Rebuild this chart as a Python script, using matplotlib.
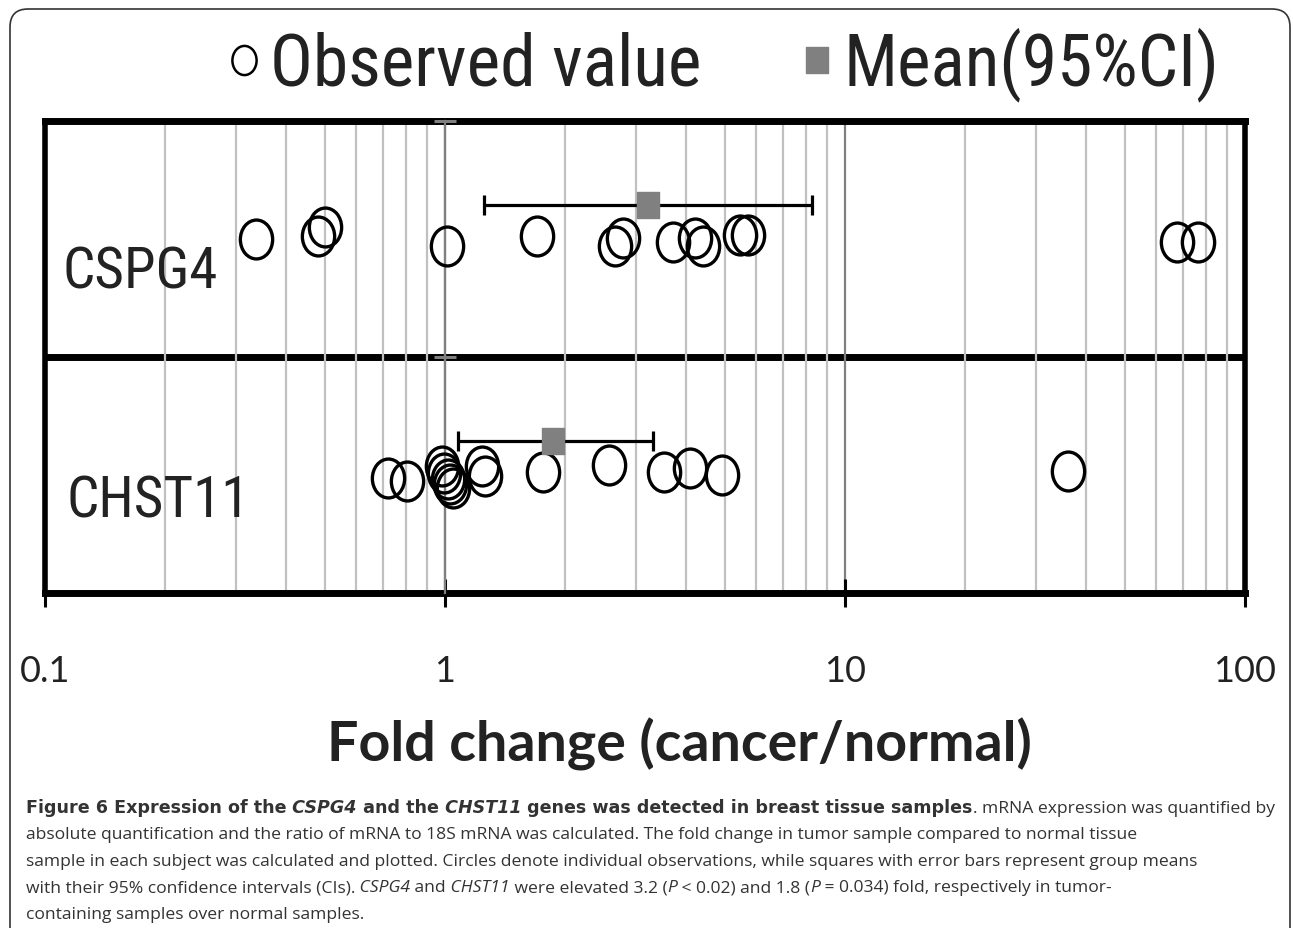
# Fold change of CSPG4 / CHST11 expression, tumor vs normal (log scale dot plot)
import matplotlib
matplotlib.use('Agg')
import matplotlib.pyplot as plt
import matplotlib.transforms as mtransforms
from matplotlib import font_manager
from matplotlib.path import Path
from matplotlib.lines import Line2D
from matplotlib.patches import FancyBboxPatch

# ---- data ----
genes = ['CHST11', 'CSPG4']
gene_rows = [0.5, 1.5]

cspg4_values = [0.337, 0.482, 0.501, 1.013, 1.70, 2.66, 2.79, 3.72, 4.22, 4.41,
                5.46, 5.73, 67.5, 76.4]
cspg4_jitter = [0.000, 0.014, 0.050, -0.028, 0.014, -0.028, 0.003, -0.011, 0.003,
                -0.028, 0.017, 0.017, -0.011, -0.011]
chst11_values = [0.721, 0.802, 0.981, 0.997, 1.017, 1.032, 1.049, 1.235, 1.259,
                 1.755, 2.57, 3.53, 4.10, 4.93, 36.0]
chst11_jitter = [-0.014, -0.024, 0.038, 0.008, -0.019, -0.038, -0.056, 0.040, -0.004,
                 0.014, 0.044, 0.014, 0.028, 0.000, 0.018]

means = [1.86, 3.22]
ci_low = [1.08, 1.25]
ci_high = [3.31, 8.28]
mean_offset = 0.145

xticks = [0.1, 1, 10, 100]
xtick_labels = ['0.1', '1', '10', '100']

caption_lines = [
    [("Figure 6 Expression of the", 'bold', 'normal'), (" CSPG4", 'bold', 'italic'),
     (" and the", 'bold', 'normal'), (" CHST11", 'bold', 'italic'),
     (" genes was detected in breast tissue samples", 'bold', 'normal'),
     (". mRNA expression was quantified by", 'normal', 'normal')],
    [("absolute quantification and the ratio of mRNA to 18S mRNA was calculated. "
      "The fold change in tumor sample compared to normal tissue", 'normal', 'normal')],
    [("sample in each subject was calculated and plotted. Circles denote individual "
      "observations, while squares with error bars represent group means", 'normal', 'normal')],
    [("with their 95% confidence intervals (CIs).", 'normal', 'normal'), (" CSPG4", 'normal', 'italic'),
     (" and", 'normal', 'normal'), (" CHST11", 'normal', 'italic'),
     (" were elevated 3.2 (", 'normal', 'normal'), ("P", 'normal', 'italic'),
     (" < 0.02) and 1.8 (", 'normal', 'normal'), ("P", 'normal', 'italic'),
     (" = 0.034) fold, respectively in tumor-", 'normal', 'normal')],
    [("containing samples over normal samples.", 'normal', 'normal')],
]

# ---- fonts: the original text is an Arial squeezed sideways, use a narrow face if there is one ----
installed = {f.name for f in font_manager.fontManager.ttflist}
narrow = next((n for n in ['Liberation Sans Narrow', 'Arial Narrow', 'Roboto Condensed',
                           'Open Sans Condensed', 'Noto Sans Condensed'] if n in installed), None)
if narrow:
    ARIAL = [narrow, 'Liberation Sans']
    legend_size, gene_size = 51.5, 41
else:
    ARIAL = ['Liberation Sans', 'DejaVu Sans']
    legend_size, gene_size = 44, 34.5
CALIBRI = ['Lato', 'DejaVu Sans']
CAPTION = ['Open Sans', 'DejaVu Sans']
CAPTION_BOLD = ['DejaVu Sans']

W, H = 1293, 929
fig = plt.figure(figsize=(W / 100, H / 100), dpi=100)
ax = fig.add_axes([45 / W, 1 - 594 / H, 1200 / W, 472 / H])

# slightly tall ellipse / rectangle markers, like the squeezed original
ellipse = Path.unit_circle().transformed(mtransforms.Affine2D().scale(0.83, 1.0))
rect = Path([(-0.42, -0.5), (0.42, -0.5), (0.42, 0.5), (-0.42, 0.5), (-0.42, -0.5)], closed=True)

ax.set_xscale('log')
ax.set_xlim(0.1, 100)
ax.set_ylim(0, 2)

ax.grid(True, which='minor', axis='x', color='#c0c0c0', lw=1.6, zorder=0)
ax.grid(True, which='major', axis='x', color='#808080', lw=1.6, zorder=0)
ax.axhline(1, color='black', lw=5, zorder=1)

# observed values
obs = [chst11_values, cspg4_values]
jit = [chst11_jitter, cspg4_jitter]
for row, vals, jj in zip(gene_rows, obs, jit):
    ax.plot(vals, [row + j for j in jj], ls='none', marker=ellipse, ms=28,
            mfc='none', mec='black', mew=2.4, zorder=3)

# means with 95% CI
for row, m, lo, hi in zip(gene_rows, means, ci_low, ci_high):
    ax.errorbar([m], [row + mean_offset], xerr=[[m - lo], [hi - m]], fmt='none',
                ecolor='black', elinewidth=2.3, capsize=7, capthick=2.3, zorder=4)
    ax.plot([m], [row + mean_offset], ls='none', marker=rect, ms=19,
            mfc='#808080', mec='#808080', zorder=5)

# gene names inside the bands
ax.text(0.015, 1.36, genes[1], transform=ax.get_yaxis_transform(), ha='left', va='center',
        fontsize=gene_size, family=ARIAL, color='#222222')
ax.text(0.018, 0.39, genes[0], transform=ax.get_yaxis_transform(), ha='left', va='center',
        fontsize=gene_size, family=ARIAL, color='#222222')

# axes styling
for s in ['top', 'bottom']:
    ax.spines[s].set_linewidth(5)
for s in ['left', 'right']:
    ax.spines[s].set_linewidth(4)
ax.set_yticks([])
ax.set_xticks(xticks, labels=xtick_labels, fontsize=26, family=CALIBRI, color='#222222')
ax.tick_params(axis='x', which='major', direction='inout', length=19.5, width=2.2, pad=34)
ax.tick_params(axis='x', which='minor', length=0)
ax.set_xlabel('Fold change (cancer/normal)', fontsize=40, fontweight='bold',
              family=CALIBRI, color='#222222')
ax.xaxis.set_label_coords((679 - 45) / 1200, -0.262)

# vertical axis crossing at x = 1 (gray, with short ticks drawn over the black lines)
sec = ax.secondary_yaxis(1 / 3)
sec.set_yticks([1, 2])
sec.tick_params(direction='inout', length=16, width=2.2, color='#808080', labelleft=False)
sec.spines['left'].set_color('#808080')
sec.spines['left'].set_linewidth(1.6)
sec.set_zorder(2.7)

# legend
h_obs = Line2D([], [], ls='none', marker=ellipse, ms=21, mfc='none', mec='black', mew=1.8)
h_mean = Line2D([], [], ls='none', marker=rect, ms=19, mfc='#808080', mec='#808080')
fig.legend([h_obs, h_mean], ['Observed value', 'Mean(95%CI)'], loc='center',
           bbox_to_anchor=(720 / W, 1 - 65 / H), ncol=2, frameon=False,
           prop={'family': ARIAL, 'size': legend_size}, handlelength=0.65, handletextpad=0.04,
           columnspacing=1.3, labelcolor='#222222')

# caption, built segment by segment
baselines = [813, 839.5, 866, 892.5, 919]
for yb, parts in zip(baselines, caption_lines):
    t = None
    for s, wt, st in parts:
        fam = CAPTION_BOLD if wt == 'bold' else CAPTION
        if t is None:
            t = fig.text(26 / W, 1 - yb / H, s, fontsize=12.6, family=fam,
                         fontweight=wt, fontstyle=st, va='baseline', ha='left', color='#333333')
        else:
            t = ax.annotate(s, xy=(1, 0), xycoords=t, va='bottom', ha='left',
                            fontsize=12.6, family=fam, fontweight=wt, fontstyle=st,
                            color='#333333', annotation_clip=False)

# frame around figure + caption
frame = FancyBboxPatch((10, -60), 1280, H - 10 + 60, boxstyle='round,pad=0,rounding_size=18',
                       transform=None, fill=False, ec='#333333', lw=1.2)
fig.add_artist(frame)

fig.savefig('out.png', dpi=100)
